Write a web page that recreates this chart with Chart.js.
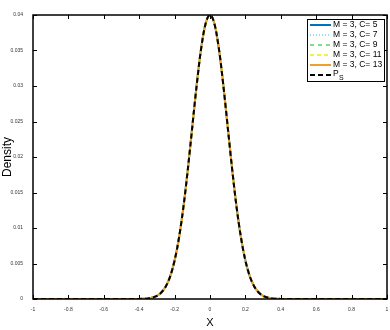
<!DOCTYPE html>
<html>
<head>
<meta charset="utf-8">
<script src="https://cdn.jsdelivr.net/npm/chart.js@4"></script>
<style>
  html, body { margin: 0; padding: 0; background: #fff; }
  #wrap { width: 390px; height: 330px; }
</style>
</head>
<body>
<div id="wrap"><canvas id="densityChart" width="390" height="330"></canvas></div>
<script>
// x positions of the density curve
const xValues = [-1, -0.45, -0.4, -0.375, -0.35, -0.325, -0.3, -0.275, -0.25, -0.225, -0.2, -0.175, -0.15, -0.125, -0.1, -0.075, -0.05, -0.025,
    0, 0.025, 0.05, 0.075, 0.1, 0.125, 0.15, 0.175, 0.2, 0.225, 0.25, 0.275, 0.3, 0.325, 0.35, 0.375, 0.4, 0.45, 1];

// density (all series overlap)
const densityValues = [0, 0, 0.0000134, 0.0000354, 0.0000875, 0.000204, 0.00044, 0.000912, 0.00176, 0.00318, 0.00541, 0.00865, 0.01299, 0.01831, 0.02426, 0.03019, 0.0353, 0.03877,
    0.04, 0.03877, 0.0353, 0.03019, 0.02426, 0.01831, 0.01299, 0.00865, 0.00541, 0.00318, 0.00176, 0.000912, 0.00044, 0.000204, 0.0000875, 0.0000354, 0.0000134, 0, 0];

const seriesLabels = ['M = 3, C= 5', 'M = 3, C= 7', 'M = 3, C= 9', 'M = 3, C= 11', 'M = 3, C= 13', 'P_S'];
const seriesColors = ['#0072BD', '#9ADCF0', '#80E080', '#F2F040', '#EDA030', '#000000'];
const seriesDash = [[], [1, 2], [4, 4], [4, 3], [], [5, 3]];
const seriesOrder = [5, 4, 3, 2, 1, 0];

const xTicks = [-1, -0.8, -0.6, -0.4, -0.2, 0, 0.2, 0.4, 0.6, 0.8, 1];
const yTicks = [0, 0.005, 0.01, 0.015, 0.02, 0.025, 0.03, 0.035, 0.04];

function points(values) {
    return xValues.map((x, i) => ({ x: x, y: values[i] }));
}

// Box with inward ticks on all four sides
const boxPlugin = {
    id: 'box',
    afterDatasetsDraw(chart) {
        const ctx = chart.ctx;
        const a = chart.chartArea;
        const xs = chart.scales.x;
        const ys = chart.scales.y;
        ctx.save();
        ctx.strokeStyle = '#000';
        ctx.lineWidth = 1;
        ctx.beginPath();
        xTicks.forEach(v => {
            const p = Math.round(xs.getPixelForValue(v)) + 0.5;
            ctx.moveTo(p, a.bottom); ctx.lineTo(p, a.bottom - 4);
            ctx.moveTo(p, a.top); ctx.lineTo(p, a.top + 4);
        });
        yTicks.forEach(v => {
            const p = Math.round(ys.getPixelForValue(v)) + 0.5;
            ctx.moveTo(a.left, p); ctx.lineTo(a.left + 4, p);
            ctx.moveTo(a.right, p); ctx.lineTo(a.right - 4, p);
        });
        ctx.stroke();
        ctx.lineWidth = 1.5;
        ctx.strokeRect(a.left, a.top, a.right - a.left, a.bottom - a.top);
        ctx.restore();
    },
    afterDraw(chart) {
        // legend inside the plot, top right
        const ctx = chart.ctx;
        const a = chart.chartArea;
        const bx = a.left + 274, by = 19, bw = 77, bh = 62;
        ctx.save();
        ctx.fillStyle = '#fff';
        ctx.fillRect(bx, by, bw, bh);
        ctx.strokeStyle = '#000';
        ctx.lineWidth = 1;
        ctx.strokeRect(bx + 0.5, by + 0.5, bw, bh);
        ctx.font = '8.5px "Liberation Sans", Arial, sans-serif';
        ctx.textBaseline = 'middle';
        seriesLabels.forEach((label, i) => {
            const ry = by + 6 + i * 10;
            ctx.strokeStyle = seriesColors[i];
            ctx.lineWidth = 2;
            ctx.setLineDash(seriesDash[i]);
            ctx.beginPath();
            ctx.moveTo(bx + 3, ry);
            ctx.lineTo(bx + 24, ry);
            ctx.stroke();
            ctx.setLineDash([]);
            ctx.fillStyle = '#000';
            if (label === 'P_S') {
                ctx.fillText('P', bx + 26, ry - 1);
                ctx.font = '7px "Liberation Sans", Arial, sans-serif';
                ctx.fillText('S', bx + 32, ry + 3);
            } else {
                ctx.fillText(label, bx + 26, ry);
            }
        });
        ctx.restore();
    }
};

const datasets = seriesLabels.map((label, i) => ({
    label: label,
    data: points(densityValues),
    borderColor: seriesColors[i],
    borderWidth: 2,
    borderDash: seriesDash[i],
    pointRadius: 0,
    tension: 0.4,
    cubicInterpolationMode: 'monotone',
    fill: false,
    order: seriesOrder[i]
}));

new Chart(document.getElementById('densityChart'), {
    type: 'line',
    data: { datasets: datasets },
    options: {
        responsive: false,
        animation: false,
        devicePixelRatio: 1,
        layout: { padding: { top: 15, right: 3, left: 0, bottom: 0 } },
        plugins: {
            legend: { display: false },
            tooltip: { enabled: false }
        },
        scales: {
            x: {
                type: 'linear',
                min: -1,
                max: 1,
                afterBuildTicks: s => { s.ticks = xTicks.map(v => ({ value: v })); },
                afterFit: s => { s.height = 31; },
                grid: { display: false },
                border: { display: false },
                ticks: {
                    padding: 0,
                    maxRotation: 0,
                    autoSkip: false,
                    color: '#333',
                    font: { size: 5, family: '"Liberation Sans", Arial, sans-serif' },
                    callback: v => String(v)
                },
                title: {
                    display: true,
                    text: 'X',
                    color: '#000',
                    padding: { top: 4, bottom: 0 },
                    font: { size: 11, family: '"Liberation Sans", Arial, sans-serif' }
                }
            },
            y: {
                min: 0,
                max: 0.04,
                afterBuildTicks: s => { s.ticks = yTicks.map(v => ({ value: v })); },
                afterFit: s => { s.width = 33; },
                grid: { display: false },
                border: { display: false },
                ticks: {
                    padding: 2,
                    autoSkip: false,
                    color: '#333',
                    font: { size: 5, family: '"Liberation Sans", Arial, sans-serif' },
                    callback: v => String(v)
                },
                title: {
                    display: true,
                    text: 'Density',
                    color: '#000',
                    padding: { top: 0, bottom: 0 },
                    font: { size: 12, family: '"Liberation Sans", Arial, sans-serif' }
                }
            }
        }
    },
    plugins: [boxPlugin]
});
</script>
</body>
</html>
